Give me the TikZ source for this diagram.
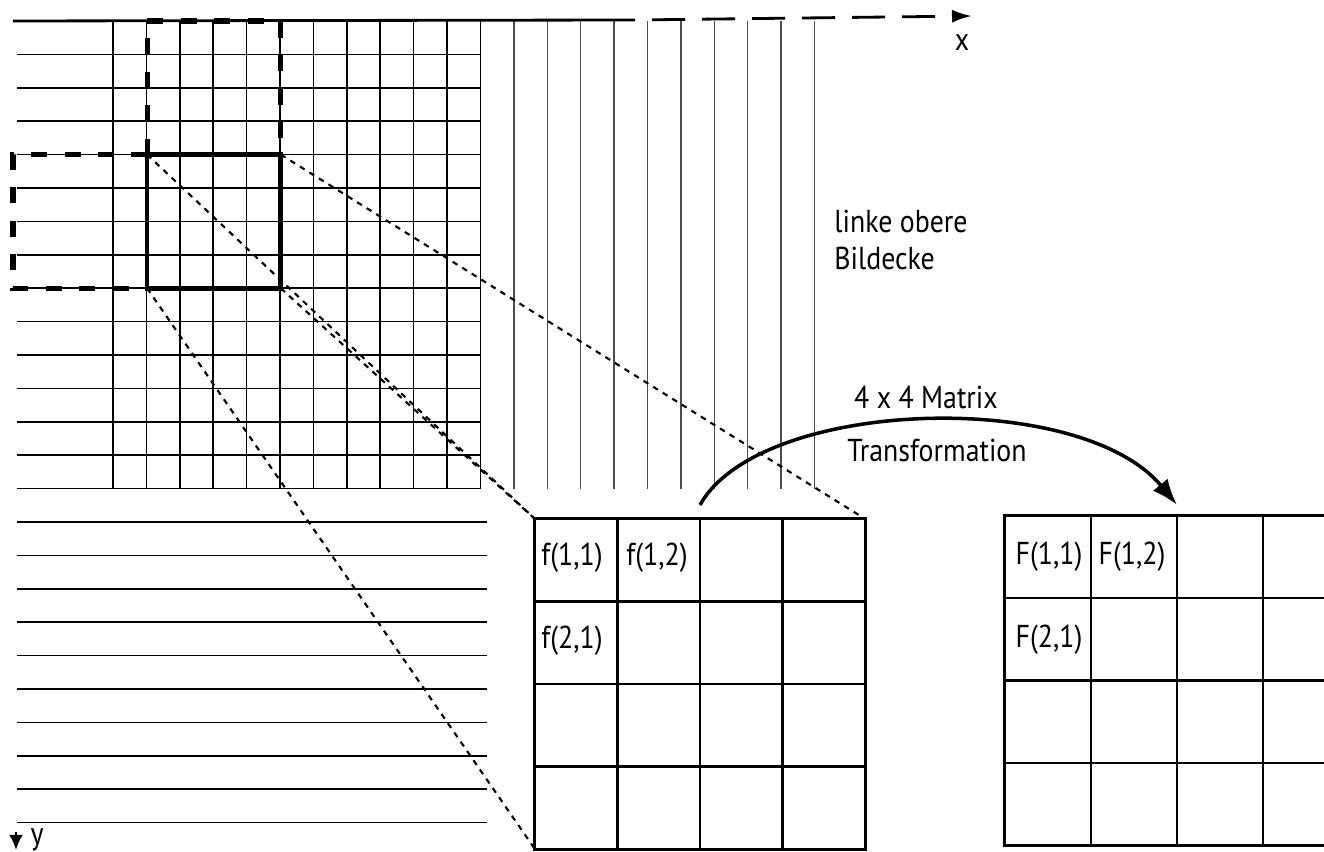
\documentclass[tikz,border=0pt]{standalone}
\usepackage{fontspec}
\setmainfont{PT Sans}[FakeStretch=0.88]
\usetikzlibrary{arrows.meta}

\begin{document}
\begin{tikzpicture}[
    x=0.01cm, y=-0.01cm,
    font=\fontsize{9}{10.6}\selectfont,
    gridline/.style={line width=0.5pt},
    faintline/.style={line width=0.4pt, black!70},
    axis/.style={line width=0.8pt},
    winbox/.style={line width=1.5pt, dash pattern=on 0.16cm off 0.174cm},
    selbox/.style={draw, line width=1.3pt, outer sep=0pt, inner sep=0pt, minimum width=1.336cm, minimum height=1.336cm},
    matbox/.style={draw, line width=0.9pt, outer sep=0pt, inner sep=0pt},
    cell/.style={line width=0.7pt},
    proj/.style={line width=0.6pt, dash pattern=on 1.6pt off 1.6pt},
    arrow/.style={-{Latex[length=2.6mm, width=1.9mm]}, line width=1pt}
]
\useasboundingbox (0,0) rectangle (1324,852);

% image grid
\foreach \i in {1,...,14}
    \draw[gridline] (17,{21+33.4*\i}) -- (480.4,{21+33.4*\i});
\foreach \i in {15,...,24}
    \draw[gridline] (17,{21+33.4*\i}) -- (487,{21+33.4*\i});
\foreach \i in {0,...,11}
    \draw[gridline] ({113+33.4*\i},21) -- ({113+33.4*\i},488.6);
\foreach \i in {12,...,21}
    \draw[faintline] ({113+33.4*\i},21) -- ({113+33.4*\i},488.6);

% axes
\coordinate (origin) at (13,21);
\coordinate (xsolid) at (635,20);
\coordinate (xtip) at (972,16);
\draw[axis] (origin) -- (xsolid);
\draw[axis, dash pattern=on 0.33cm off 0.17cm, dash phase=0.33cm,
      -{Latex[length=2mm, width=1.3mm]}] (xsolid) -- (xtip);
\node (xlab) at (962,43) {x};
\coordinate (ytop) at (16,832);
\coordinate (ytip) at (16,850);
\draw[axis, -{Latex[length=1.5mm, width=1.4mm]}] (ytop) -- (ytip);
\node[anchor=base] (ylab) at (37,844) {y};

\node[anchor=west, align=left] (corner) at (822,240) {linke obere\\Bildecke};

% 4x4 window and neighbours
\draw[winbox] (147.4,154.6) -- (147.4,21) -- (280.4,21) -- (280.4,154.6);
\draw[winbox] (147.4,154.6) -- (13,154.6) -- (13,288.2) -- (147.4,288.2);
\node[selbox] (sel) at (213.9,221.4) {};

% matrices
\node[matbox, minimum width=3.3cm, minimum height=3.3cm] (fm) at (700,684) {};
\foreach \i in {1,2,3} {
    \draw[cell] ({535+82.5*\i},519) -- ({535+82.5*\i},849);
    \draw[cell] (535,{519+82.5*\i}) -- (865,{519+82.5*\i});
}
\node (f11) at (572,558) {f(1,1)};
\node (f12) at (657,558) {f(1,2)};
\node (f21) at (572,641) {f(2,1)};

\node[matbox, minimum width=3.44cm, minimum height=3.29cm] (Fm) at (1177,680.5) {};
\foreach \i in {1,2,3} {
    \draw[cell] ({1005+86*\i},516) -- ({1005+86*\i},845);
    \draw[cell] (1005,{516+82.25*\i}) -- (1349,{516+82.25*\i});
}
\node (F11) at (1049,557) {F(1,1)};
\node (F12) at (1132,557) {F(1,2)};
\node (F21) at (1049,640) {F(2,1)};

% projection lines
\draw[proj] (sel.north west) -- (fm.north west);
\draw[proj] (sel.north east) -- (fm.north east);
\draw[proj] (sel.south west) -- (fm.south west);
\draw[proj] (sel.south east) -- (fm.north west);

% transformation
\draw[arrow] ([yshift=1.4mm]fm.north) .. controls +(60,-107) and +(-97,-117) .. ([yshift=1.1mm]Fm.north);
\node (mat) at (926,397) {4 x 4 Matrix};
\node (trans) at (937,450) {Transformation};
\end{tikzpicture}
\end{document}
